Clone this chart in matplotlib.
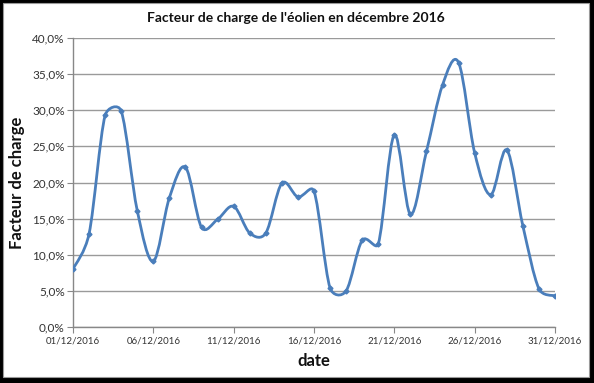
import matplotlib
matplotlib.use("Agg")
import matplotlib.pyplot as plt
import numpy as np
from matplotlib.path import Path
from matplotlib.patches import PathPatch, Rectangle
from matplotlib.ticker import FuncFormatter

days = list(range(1, 32))
values = [8.0, 12.9, 29.3, 29.9, 16.1, 9.1, 17.9, 22.1, 13.8, 14.9,
          16.7, 13.0, 13.0, 19.9, 18.0, 18.8, 5.4, 5.0, 12.0, 11.5,
          26.6, 15.6, 24.3, 33.5, 36.6, 24.1, 18.3, 24.5, 14.0, 5.3, 4.3]
tick_days = [1, 6, 11, 16, 21, 26, 31]
tick_labels = ["01/12/2016", "06/12/2016", "11/12/2016", "16/12/2016",
               "21/12/2016", "26/12/2016", "31/12/2016"]
y_ticks = [0, 5, 10, 15, 20, 25, 30, 35, 40]

title = "Facteur de charge de l'éolien en décembre 2016"
xlabel = "date"
ylabel = "Facteur de charge"

blue = "#4A7EBB"
grid = "#9A9A9A"
plt.rcParams['font.family'] = ['Lato', 'DejaVu Sans']

fig = plt.figure(figsize=(5.94, 3.83), dpi=100, facecolor="black")
fig.patches.append(Rectangle((3/594, 1-377/383), (589-3)/594, (377-3)/383,
                             transform=fig.transFigure, facecolor="white",
                             edgecolor="#9A9A9A", linewidth=0.8, zorder=-10))
ax = fig.add_axes([73/594, 1-327/383, (555-73)/594, (327-38)/383])
ax.set_facecolor("none")
ax.set_xlim(1, 31)
ax.set_ylim(0, 40)

# smoothed line (Bezier through the points, Excel-like, computed in display space)
P = ax.transData.transform(np.column_stack([days, values]))
n = len(P)
verts = [P[0]]
codes = [Path.MOVETO]


def arm(vec, seg_len):
    a = vec / 6.0
    L = np.hypot(*a)
    cap = 0.5 * seg_len
    if L > cap and L > 0:
        a = a * cap / L
    return a


for i in range(n - 1):
    p0 = P[i - 1] if i > 0 else P[i]
    p1 = P[i]
    p2 = P[i + 1]
    p3 = P[i + 2] if i + 2 < n else P[i + 1]
    d12 = np.hypot(*(p2 - p1))
    c1 = p1 + arm(p2 - p0, d12)
    c2 = p2 - arm(p3 - p1, d12)
    verts += [c1, c2, p2]
    codes += [Path.CURVE4] * 3
verts_data = ax.transData.inverted().transform(np.array(verts))
ax.add_patch(PathPatch(Path(verts_data, codes), facecolor="none", edgecolor=blue,
                       linewidth=2, zorder=3, capstyle="round", joinstyle="round"))
ax.plot(days, values, linestyle="none", marker="D", markersize=2.5,
        color=blue, zorder=4)

ax.set_yticks(y_ticks)
ax.yaxis.set_major_formatter(FuncFormatter(lambda v, p: f"{v:.1f}".replace(".", ",") + "%"))
ax.set_xticks(tick_days)
ax.set_xticklabels(tick_labels)
ax.grid(axis="y", color=grid, linewidth=1)
ax.set_axisbelow(True)
for s in ["top", "right"]:
    ax.spines[s].set_visible(False)
for s in ["left", "bottom"]:
    ax.spines[s].set_color("#888888")
    ax.spines[s].set_linewidth(1)
ax.tick_params(axis="x", colors="#888888", labelcolor="#333333", labelsize=7,
               length=4, direction="out", pad=3)
ax.tick_params(axis="y", colors="#888888", labelcolor="#333333", labelsize=8.5,
               length=4, direction="out", pad=2)

fig.text(296/594, 1-18/383, title, fontsize=10, fontweight="bold",
         color="#111111", ha="center", va="center")
ax.set_xlabel(xlabel, fontsize=12, fontweight="bold", labelpad=5, color="#111111")
ax.set_ylabel(ylabel, fontsize=12, fontweight="bold", color="#111111")
ax.yaxis.set_label_coords(-(73 - 25) / (555 - 73), 0.5)

fig.savefig("out.png", dpi=100, facecolor="black")
